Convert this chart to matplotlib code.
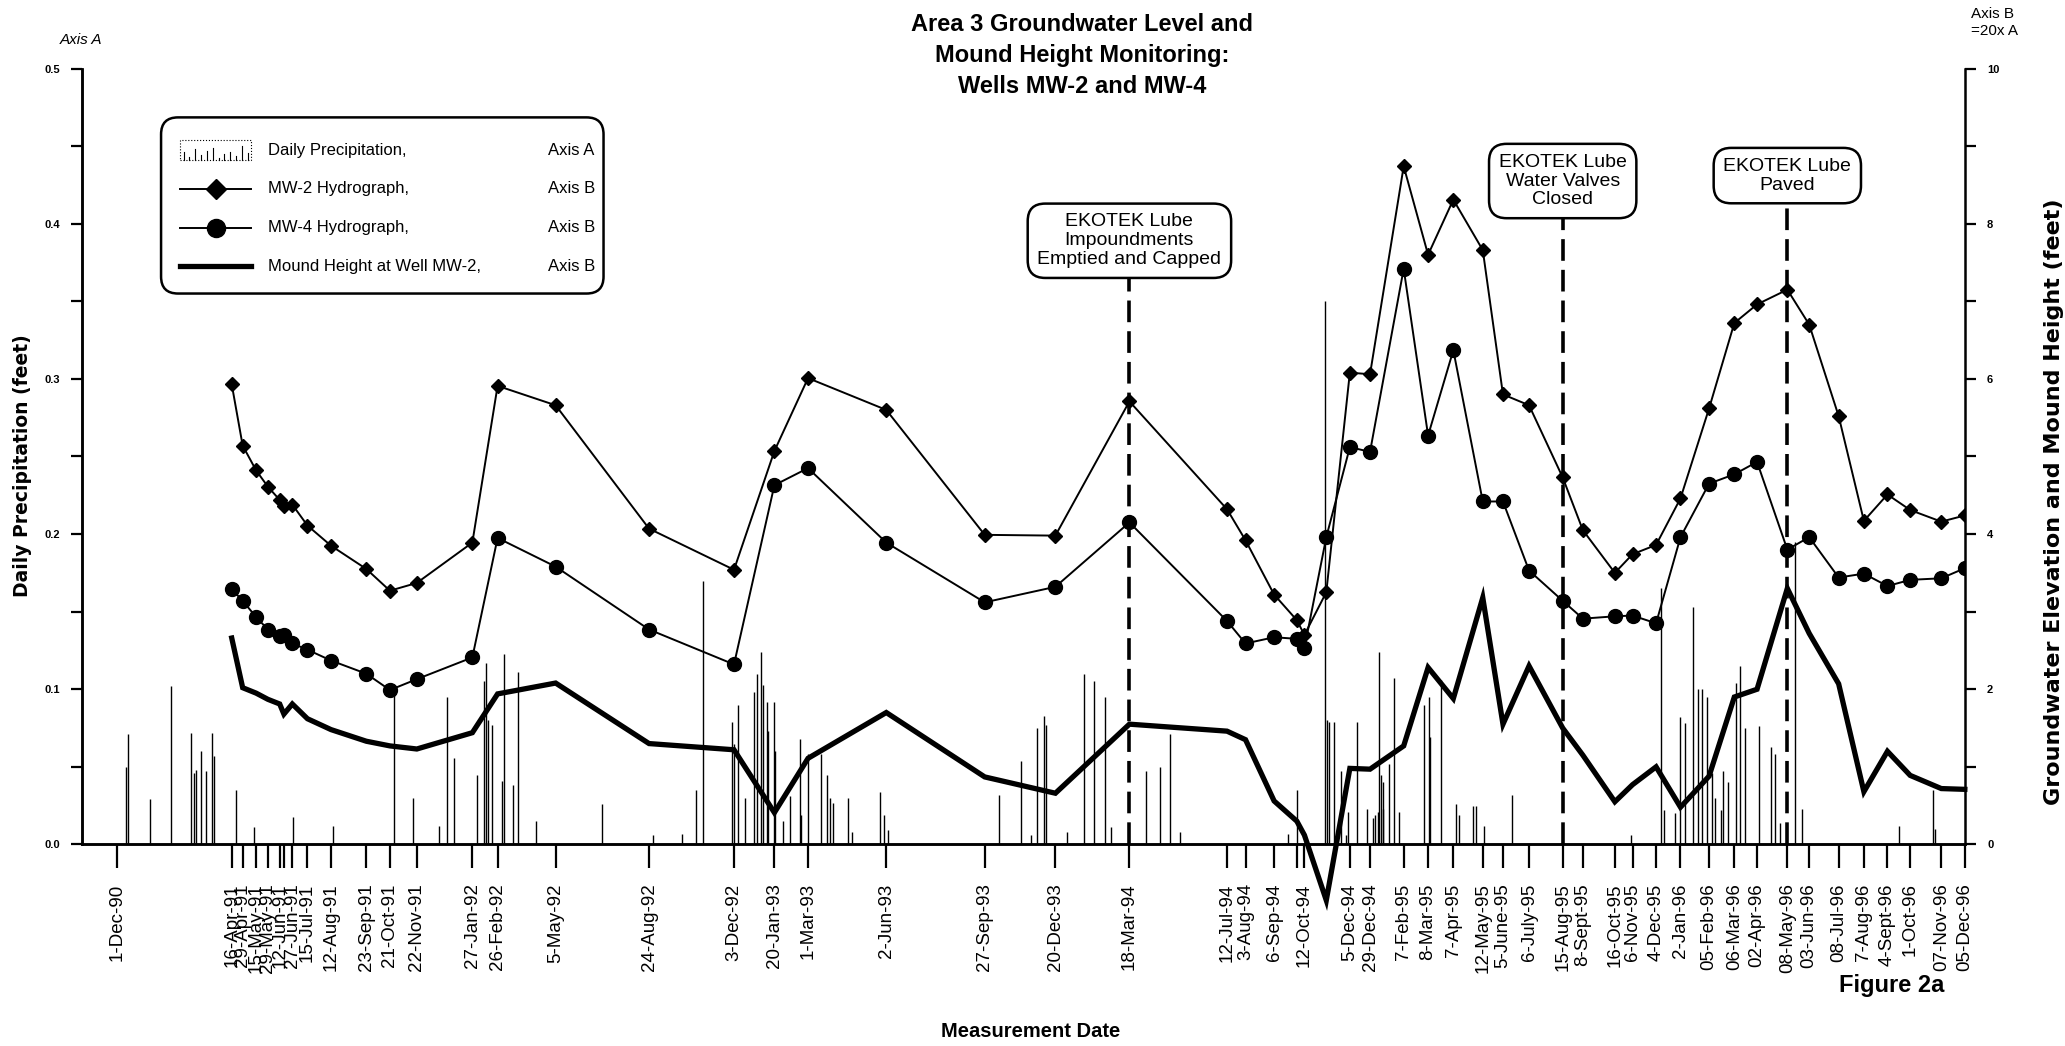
import matplotlib
matplotlib.use("Agg")
import matplotlib.pyplot as plt
from matplotlib.patches import FancyBboxPatch, Rectangle
import numpy as np
import pandas as pd

plt.rcParams['font.family'] = ['Liberation Sans', 'DejaVu Sans']

# ── DATA ──────────────────────────────────────────────────────────────────
# measurement dates, tick label printed for each (None = no tick drawn)
meas_dates = ['1991-04-16', '1991-04-29', '1991-05-15', '1991-05-29', '1991-06-12', '1991-06-17',
              '1991-06-27', '1991-07-15', '1991-08-12', '1991-09-23', '1991-10-21', '1991-11-22',
              '1992-01-27', '1992-02-26', '1992-05-05', '1992-08-24', '1992-12-03',
              '1993-01-20', '1993-03-01', '1993-06-02', '1993-09-27', '1993-12-20',
              '1994-03-18', '1994-07-12', '1994-08-03', '1994-09-06', '1994-10-03', '1994-10-12',
              '1994-11-07', '1994-12-05', '1994-12-29',
              '1995-02-07', '1995-03-08', '1995-04-07', '1995-05-12', '1995-06-05', '1995-07-06',
              '1995-08-15', '1995-09-08', '1995-10-16', '1995-11-06', '1995-12-04',
              '1996-01-02', '1996-02-05', '1996-03-06', '1996-04-02', '1996-05-08', '1996-06-03',
              '1996-07-08', '1996-08-07', '1996-09-04', '1996-10-01', '1996-11-07', '1996-12-05']
meas_labels = ['16-Apr-91', '29-Apr-91', '15-May-91', '29-May-91', '12-Jun-91', '',
               '27-Jun-91', '15-Jul-91', '12-Aug-91', '23-Sep-91', '21-Oct-91', '22-Nov-91',
               '27-Jan-92', '26-Feb-92', '5-May-92', '24-Aug-92', '3-Dec-92',
               '20-Jan-93', '1-Mar-93', '2-Jun-93', '27-Sep-93', '20-Dec-93',
               '18-Mar-94', '12-Jul-94', '3-Aug-94', '6-Sep-94', '', '12-Oct-94',
               None, '5-Dec-94', '29-Dec-94',
               '7-Feb-95', '8-Mar-95', '7-Apr-95', '12-May-95', '5-June-95', '6-July-95',
               '15-Aug-95', '8-Sept-95', '16-Oct-95', '6-Nov-95', '4-Dec-95',
               '2-Jan-96', '05-Feb-96', '06-Mar-96', '02-Apr-96', '08-May-96', '03-Jun-96',
               '08-Jul-96', '7-Aug-96', '4-Sept-96', '1-Oct-96', '07-Nov-96', '05-Dec-96']
extra_tick_date = '1990-12-01'
extra_tick_label = '1-Dec-90'

# Axis B values (feet)
mw2 = [5.93, 5.14, 4.82, 4.61, 4.44, 4.36, 4.38, 4.11, 3.85, 3.55, 3.27, 3.37,
       3.89, 5.91, 5.66, 4.07, 3.54,
       5.07, 6.01, 5.60, 3.99, 3.98,
       5.71, 4.32, 3.92, 3.22, 2.89, 2.70, 3.25, 6.08, 6.06,
       8.74, 7.60, 8.31, 7.66, 5.80, 5.66, 4.73, 4.05, 3.50, 3.74, 3.86,
       4.46, 5.62, 6.72, 6.96, 7.15, 6.70, 5.52, 4.17, 4.51, 4.31, 4.16, 4.24]
mw4 = [3.29, 3.14, 2.93, 2.77, 2.69, 2.70, 2.59, 2.51, 2.37, 2.20, 1.99, 2.13,
       2.41, 3.95, 3.58, 2.77, 2.32,
       4.63, 4.85, 3.89, 3.12, 3.32,
       4.15, 2.88, 2.59, 2.67, 2.65, 2.53, 3.96, 5.12, 5.06,
       7.42, 5.27, 6.37, 4.42, 4.42, 3.53, 3.14, 2.91, 2.94, 2.95, 2.85,
       3.96, 4.65, 4.77, 4.93, 3.80, 3.96, 3.44, 3.49, 3.33, 3.41, 3.43, 3.56]
mound = [2.66, 2.02, 1.95, 1.87, 1.81, 1.68, 1.81, 1.62, 1.48, 1.33, 1.27, 1.23,
         1.44, 1.94, 2.08, 1.30, 1.22,
         0.41, 1.11, 1.70, 0.87, 0.66,
         1.55, 1.46, 1.35, 0.56, 0.30, 0.12, -0.72, 0.98, 0.97,
         1.27, 2.28, 1.88, 3.18, 1.55, 2.30, 1.50, 1.15, 0.55, 0.77, 1.00,
         0.48, 0.88, 1.90, 2.00, 3.30, 2.72, 2.07, 0.68, 1.20, 0.89, 0.72, 0.71]

# daily precipitation, Axis A (feet)
precip_dates = ['1990-12-11', '1990-12-14', '1991-01-09', '1991-02-03', '1991-02-27', '1991-03-02',
                '1991-03-04', '1991-03-11', '1991-03-17', '1991-03-24', '1991-03-26', '1991-04-21',
                '1991-05-13', '1991-06-28', '1991-08-14', '1991-10-26', '1991-11-17', '1991-12-18',
                '1991-12-28', '1992-01-05', '1992-02-02', '1992-02-10', '1992-02-12', '1992-02-15',
                '1992-02-19', '1992-03-02', '1992-03-05', '1992-03-15', '1992-03-21', '1992-04-12',
                '1992-06-29', '1992-08-29', '1992-10-02', '1992-10-19', '1992-10-27', '1992-12-01',
                '1992-12-03', '1992-12-08', '1992-12-16', '1992-12-27', '1992-12-30', '1993-01-04',
                '1993-01-07', '1993-01-11', '1993-01-13', '1993-01-19', '1993-01-21', '1993-01-30',
                '1993-02-07', '1993-02-19', '1993-02-21', '1993-03-01', '1993-03-16', '1993-03-23',
                '1993-03-27', '1993-03-31', '1993-04-17', '1993-04-22', '1993-05-25', '1993-05-30',
                '1993-06-04', '1993-10-14', '1993-11-09', '1993-11-21', '1993-11-28', '1993-12-06',
                '1993-12-09', '1994-01-03', '1994-01-23', '1994-02-04', '1994-02-17', '1994-02-24',
                '1994-04-07', '1994-04-23', '1994-05-05', '1994-05-17', '1994-09-22', '1994-10-03',
                '1994-11-05', '1994-11-08', '1994-11-10', '1994-11-16', '1994-11-24', '1994-11-30',
                '1994-12-03', '1994-12-14', '1994-12-25', '1995-01-01', '1995-01-04', '1995-01-07',
                '1995-01-09', '1995-01-11', '1995-01-13', '1995-01-14', '1995-01-21', '1995-01-27',
                '1995-02-01', '1995-03-03', '1995-03-09', '1995-03-10', '1995-03-23', '1995-04-10',
                '1995-04-14', '1995-04-30', '1995-05-04', '1995-05-13', '1995-06-16', '1995-11-04',
                '1995-12-10', '1995-12-13', '1995-12-26', '1996-01-01', '1996-01-07', '1996-01-17',
                '1996-01-23', '1996-01-27', '1996-02-02', '1996-02-08', '1996-02-12', '1996-02-19',
                '1996-02-22', '1996-02-28', '1996-03-08', '1996-03-13', '1996-03-19', '1996-04-04',
                '1996-04-19', '1996-04-23', '1996-04-29', '1996-05-17', '1996-05-25', '1996-09-18',
                '1996-10-28', '1996-10-31']
precip_ft = [0.050, 0.071, 0.029, 0.102, 0.072, 0.046, 0.048, 0.060, 0.047, 0.072,
             0.057, 0.035, 0.011, 0.018, 0.012, 0.100, 0.030, 0.012, 0.095, 0.056,
             0.045, 0.105, 0.117, 0.080, 0.077, 0.041, 0.123, 0.038, 0.111, 0.015,
             0.026, 0.006, 0.007, 0.035, 0.170, 0.079, 0.065, 0.090, 0.030, 0.098,
             0.110, 0.124, 0.103, 0.092, 0.073, 0.092, 0.060, 0.015, 0.031, 0.068,
             0.019, 0.058, 0.058, 0.045, 0.030, 0.027, 0.030, 0.008, 0.034, 0.019,
             0.009, 0.032, 0.054, 0.006, 0.075, 0.083, 0.077, 0.008, 0.110, 0.105,
             0.095, 0.011, 0.047, 0.050, 0.071, 0.008, 0.007, 0.035, 0.350, 0.080,
             0.079, 0.079, 0.047, 0.006, 0.021, 0.079, 0.023, 0.017, 0.019, 0.021,
             0.124, 0.045, 0.023, 0.040, 0.052, 0.107, 0.021, 0.090, 0.095, 0.069,
             0.106, 0.026, 0.019, 0.025, 0.025, 0.012, 0.032, 0.006, 0.165, 0.022,
             0.020, 0.082, 0.078, 0.153, 0.100, 0.100, 0.095, 0.046, 0.030, 0.022,
             0.047, 0.040, 0.104, 0.115, 0.075, 0.076, 0.063, 0.058, 0.014, 0.195,
             0.023, 0.012, 0.035, 0.010]

event_dates = ['1994-03-18', '1995-08-15', '1996-05-08']
event_texts = ['EKOTEK Lube\nImpoundments\nEmptied and Capped',
               'EKOTEK Lube\nWater Valves\nClosed',
               'EKOTEK Lube\nPaved']
event_box_y = [7.78, 8.55, 8.62]   # box centre, Axis B

# ── FIGURE ────────────────────────────────────────────────────────────────
md = pd.to_datetime(meas_dates)
fig = plt.figure(figsize=(20.65, 10.46), dpi=100, facecolor='white')
ax = fig.add_axes([0.0397, 0.1927, 0.9118, 0.7418])
ax2 = ax.twinx()

# precipitation, axis A
ax.vlines(pd.to_datetime(precip_dates), 0, precip_ft, color='black', linewidth=1.0, zorder=1)
ax.set_ylim(0, 0.5)
ax.set_xlim(pd.Timestamp('1990-10-20'), pd.Timestamp('1996-12-05'))

# hydrographs and mound, axis B
ax2.plot(md, mw2, '-', color='black', lw=1.4, marker='D', ms=7, zorder=4)
ax2.plot(md, mw4, '-', color='black', lw=1.4, marker='o', ms=10, zorder=4)
ax2.plot(md, mound, '-', color='black', lw=3.8, solid_joinstyle='miter', zorder=4, clip_on=False)
ax2.set_ylim(0, 10)

# event markers
for d, t, yb in zip(event_dates, event_texts, event_box_y):
    dd = pd.Timestamp(d)
    ax2.plot([dd, dd], [0, yb], color='black', lw=2.6, dashes=(6, 2.5), zorder=3)
    ax2.text(dd, yb, t, ha='center', va='center', fontsize=14, linespacing=1.15, zorder=8,
             bbox=dict(boxstyle='round,pad=0.5,rounding_size=0.9', fc='white', ec='black', lw=1.8))

# x ticks (the crowded spring-1991 labels overlap in the original too)
tick_d = [pd.Timestamp(extra_tick_date)] + [d for d, l in zip(md, meas_labels) if l is not None]
tick_l = [extra_tick_label] + [l for l in meas_labels if l is not None]
ax.set_xticks(tick_d)
ax.set_xticklabels(tick_l, rotation=90, fontsize=13.5)
ax.tick_params(axis='x', direction='out', length=17, width=1.6, pad=11)

# y ticks
yt = np.round(np.arange(0, 0.501, 0.05), 2)
ax.set_yticks(yt)
ax.set_yticklabels([f'{v:.1f}' if i % 2 == 0 else '' for i, v in enumerate(yt)],
                   fontsize=8, fontweight='bold')
ax.tick_params(axis='y', direction='out', length=8, width=1.6, pad=8)
yt2 = np.arange(0, 11, 1)
ax2.set_yticks(yt2)
ax2.set_yticklabels([f'{v}' if v % 2 == 0 else '' for v in yt2], fontsize=8, fontweight='bold')
ax2.tick_params(axis='y', direction='out', length=8, width=1.6, pad=8)

for a in (ax, ax2):
    a.spines['top'].set_visible(False)
    for s in ('left', 'right', 'bottom'):
        a.spines[s].set_linewidth(1.8)
ax.spines['right'].set_visible(False)

# legend box
tr = ax2.transAxes
ax2.add_patch(FancyBboxPatch((0.042, 0.71), 0.235, 0.227,
                             boxstyle='round,pad=0,rounding_size=0.009', mutation_aspect=2.43,
                             transform=tr, fc='white', ec='black', lw=1.8, zorder=6))
rows = [0.894, 0.845, 0.795, 0.745]
ax2.add_patch(Rectangle((0.052, rows[0] - 0.012), 0.038, 0.026, transform=tr, fill=False,
                        ec='black', lw=0.8, ls=':', zorder=7))
icon_x = np.linspace(0.054, 0.088, 12)
icon_h = [0.010, 0.004, 0.014, 0.006, 0.012, 0.016, 0.003, 0.008, 0.011, 0.005, 0.018, 0.009]
for xi, hi in zip(icon_x, icon_h):
    ax2.plot([xi, xi], [rows[0] - 0.012, rows[0] - 0.012 + hi], color='black', lw=0.8,
             transform=tr, zorder=7)
ax2.plot([0.052, 0.090], [rows[1]] * 2, color='black', lw=1.4, transform=tr, zorder=7)
ax2.plot([0.071], [rows[1]], 'kD', ms=10, transform=tr, zorder=7)
ax2.plot([0.052, 0.090], [rows[2]] * 2, color='black', lw=1.4, transform=tr, zorder=7)
ax2.plot([0.071], [rows[2]], 'ko', ms=13, transform=tr, zorder=7)
ax2.plot([0.052, 0.090], [rows[3]] * 2, color='black', lw=3.8, transform=tr, zorder=7)
leg_names = ['Daily Precipitation,', 'MW-2 Hydrograph,', 'MW-4 Hydrograph,',
             'Mound Height at Well MW-2,']
leg_axes = ['Axis A', 'Axis B', 'Axis B', 'Axis B']
for r, n, a in zip(rows, leg_names, leg_axes):
    ax2.text(0.099, r, n, transform=tr, fontsize=12, va='center', zorder=7)
    ax2.text(0.2475, r, a, transform=tr, fontsize=12, va='center', zorder=7)

# labels and titles
fig.text(0.524, 0.988, 'Area 3 Groundwater Level and\nMound Height Monitoring:\nWells MW-2 and MW-4',
         ha='center', va='top', fontsize=17, fontweight='bold', linespacing=1.45)
fig.text(0.029, 0.962, 'Axis A', fontsize=11, style='italic', va='center')
fig.text(0.9545, 0.993, 'Axis B\n=20x A', fontsize=11, va='top', linespacing=1.2)
fig.text(0.011, 0.555, 'Daily Precipitation (feet)', rotation=90, ha='center', va='center',
         fontsize=13.5, fontweight='bold', family='DejaVu Sans')
fig.text(0.9945, 0.52, 'Groundwater Elevation and Mound Height (feet)', rotation=90,
         ha='center', va='center', fontsize=16, fontweight='bold', family='DejaVu Sans')
fig.text(0.499, 0.014, 'Measurement Date', ha='center', va='center', fontsize=14.5, fontweight='bold')
fig.text(0.916, 0.058, 'Figure 2a', ha='center', va='center', fontsize=17, fontweight='bold')

fig.savefig('out.png', dpi=100, facecolor='white')
